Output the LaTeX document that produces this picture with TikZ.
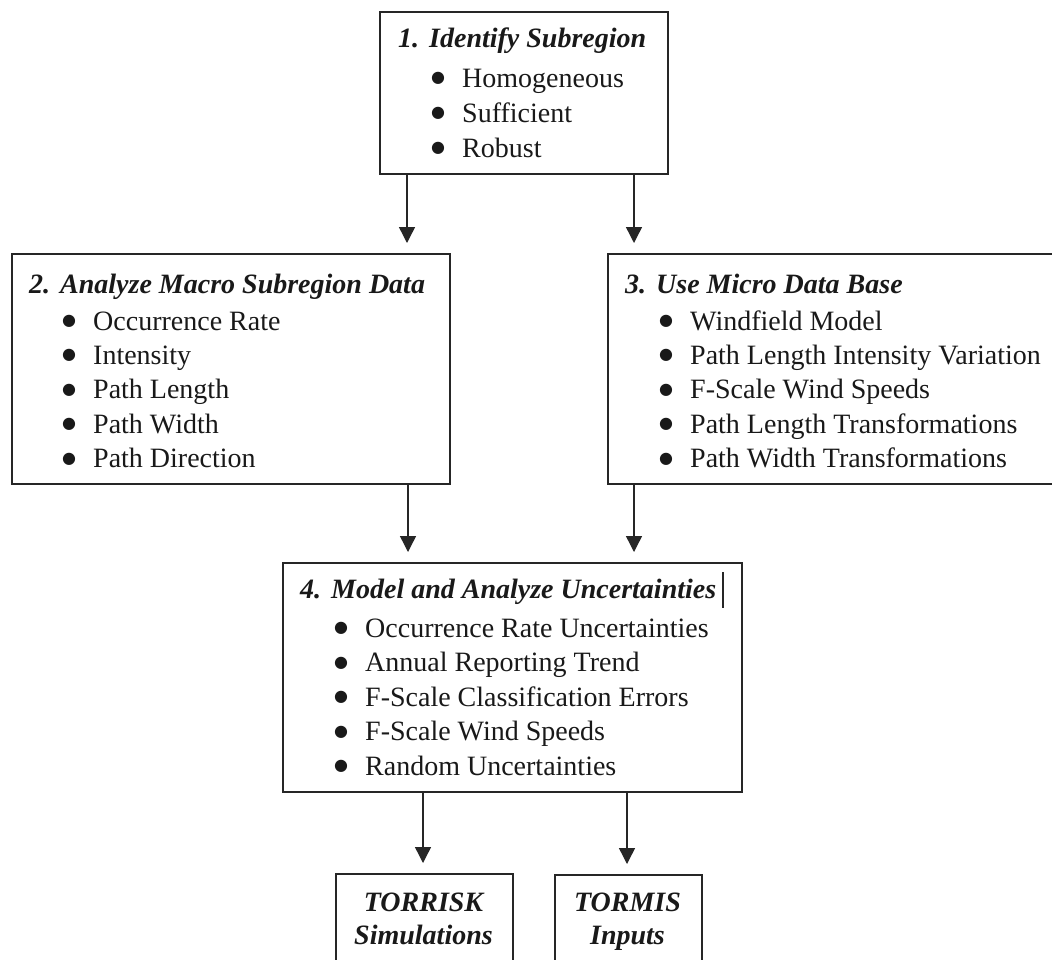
\documentclass[tikz,border=0pt]{standalone}
\usepackage{fontspec}
\setmainfont{Liberation Serif}
\newfontfamily\dotfont{DejaVu Sans}
\usetikzlibrary{arrows.meta}
\newcommand\mytitle[2]{\makebox[31pt][l]{#1}#2}
\newcommand\myitem[1]{\makebox[30pt][l]{\hspace*{-1pt}\raisebox{4.5pt}{\dotfont\fontsize{16}{16}\selectfont ●}}#1}
\begin{document}
\begin{tikzpicture}[x=1pt,y=-1pt,
  box/.style={draw=black!85, line width=1.6pt, anchor=north west, inner sep=0pt},
  ttl/.style={anchor=base west, inner sep=0pt, font=\fontsize{28}{34}\selectfont\bfseries\itshape, text=black!90},
  itm/.style={anchor=base west, inner sep=0pt, font=\fontsize{28}{34}\selectfont, text=black!90},
  btx/.style={anchor=base, inner sep=0pt, font=\fontsize{28}{34}\selectfont\bfseries\itshape, text=black!90},
  arr/.style={draw=black!85, line width=1.4pt, -{Triangle[width=16pt,length=16pt]}, shorten >=10pt}]
\useasboundingbox (0,0) rectangle (1052,959);
\fill[white] (0,0) rectangle (1052,959);

% boxes
\node[box, minimum width=288pt, minimum height=162pt] (B1) at (379,11) {};
\node[box, minimum width=438pt, minimum height=230pt] (B2) at (11,253) {};
\node[box, minimum width=460pt, minimum height=230pt] (B3) at (607,253) {};
\node[box, minimum width=459pt, minimum height=229pt] (B4) at (282,562) {};
\node[box, minimum width=177pt, minimum height=100pt] (B5) at (335,873) {};
\node[box, minimum width=147pt, minimum height=100pt] (B6) at (554,874) {};

% box 1
\node[ttl] (T1) at (398,47) {\mytitle{1.}{Identify Subregion}};
\foreach \txt [count=\i] in {Homogeneous,Sufficient,Robust}
  \node[itm] (I1-\i) at (432,{87+35*(\i-1)}) {\myitem{\txt}};

% box 2
\node[ttl] (T2) at (29,293) {\mytitle{2.}{Analyze Macro Subregion Data}};
\foreach \txt [count=\i] in {Occurrence Rate,Intensity,Path Length,Path Width,Path Direction}
  \node[itm] (I2-\i) at (63,{330+34.4*(\i-1)}) {\myitem{\txt}};

% box 3
\node[ttl] (T3) at (625,293) {\mytitle{3.}{Use Micro Data Base}};
\foreach \txt [count=\i] in {Windfield Model,Path Length Intensity Variation,F-Scale Wind Speeds,Path Length Transformations,Path Width Transformations}
  \node[itm] (I3-\i) at (660,{330+34.4*(\i-1)}) {\myitem{\txt}};

% box 4
\node[ttl] (T4) at (300,598) {\mytitle{4.}{Model and Analyze Uncertainties}};
\foreach \txt [count=\i] in {Occurrence Rate Uncertainties,Annual Reporting Trend,F-Scale Classification Errors,F-Scale Wind Speeds,Random Uncertainties}
  \node[itm] (I4-\i) at (335,{637+34.5*(\i-1)}) {\myitem{\txt}};
\draw[black!85, line width=2.4pt] (723,572) -- (723,608);

% bottom boxes
\node[btx] (R1) at (423.5,911) {TORRISK};
\node[btx] (R2) at (423.5,944) {Simulations};
\node[btx] (S1) at (627.5,911) {TORMIS};
\node[btx] (S2) at (627.5,944) {Inputs};

% connectors
\coordinate (a1) at ([xshift=28pt]B1.south west);
\coordinate (a2) at ([xshift=255pt]B1.south west);
\coordinate (a3) at ([xshift=397pt]B2.south west);
\coordinate (a4) at ([xshift=27pt]B3.south west);
\coordinate (a5) at ([xshift=141pt]B4.south west);
\coordinate (a6) at ([xshift=345pt]B4.south west);
\draw[arr] (a1) -- (a1 |- B2.north);
\draw[arr] (a2) -- (a2 |- B3.north);
\draw[arr] (a3) -- (a3 |- B4.north);
\draw[arr] (a4) -- (a4 |- B4.north);
\draw[arr] (a5) -- (a5 |- B5.north);
\draw[arr] (a6) -- (a6 |- B6.north);
\end{tikzpicture}
\end{document}
